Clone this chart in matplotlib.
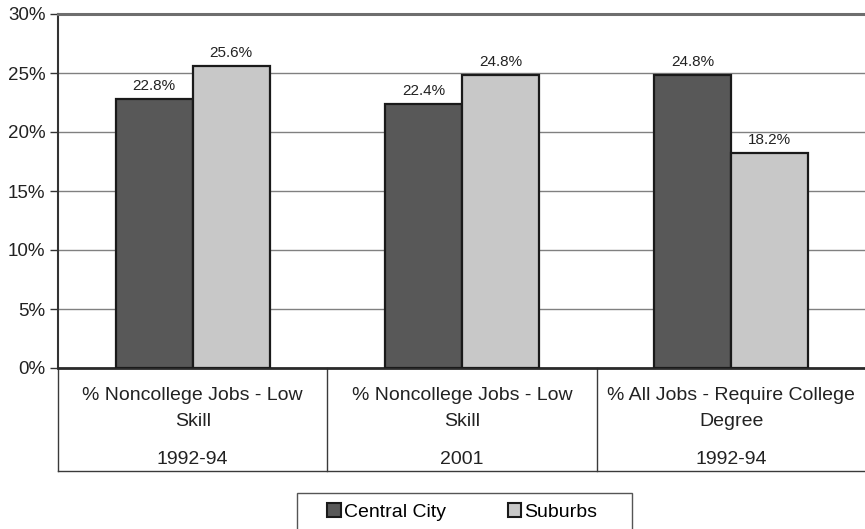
import numpy as np
import matplotlib as mpl
import matplotlib.pyplot as plt
from matplotlib.lines import Line2D
from matplotlib.patches import Rectangle

mpl.use("Agg")
plt.rcParams["font.family"] = ["Liberation Sans", "DejaVu Sans"]

categories = [
    "% Noncollege Jobs - Low\nSkill",
    "% Noncollege Jobs - Low\nSkill",
    "% All Jobs - Require College\nDegree",
]
periods = ["1992-94", "2001", "1992-94"]
series_names = ["Central City", "Suburbs"]
central_city = [22.8, 22.4, 24.8]
suburbs = [25.6, 24.8, 18.2]
y_ticks = [0, 5, 10, 15, 20, 25, 30]

dark = "#585858"
light = "#c8c8c8"
text_color = "#222222"

W, H = 865, 529
fig = plt.figure(figsize=(W / 100, H / 100), dpi=100)
ax = fig.add_axes([58 / W, 1 - 368 / H, 808 / W, 354 / H])

x = np.arange(len(categories))
width = 0.286
bars_dark = ax.bar(x - width / 2, central_city, width, color=dark,
                   edgecolor="#1a1a1a", linewidth=1.6, zorder=3, label=series_names[0])
bars_light = ax.bar(x + width / 2, suburbs, width, color=light,
                    edgecolor="#1a1a1a", linewidth=1.6, zorder=3, label=series_names[1])

for bars, vals in ((bars_dark, central_city), (bars_light, suburbs)):
    for b, v in zip(bars, vals):
        ax.text(b.get_x() + b.get_width() / 2, v + 0.5, f"{v:.1f}%",
                ha="center", va="bottom", fontsize=11, color=text_color)

ax.set_xlim(-0.5, len(categories) - 0.5)
ax.set_ylim(0, 30)
ax.set_yticks(y_ticks)
ax.set_yticklabels([f"{t}%" for t in y_ticks], fontsize=13.5, color=text_color)
ax.tick_params(axis="y", length=6, width=1, color="#333333", pad=3)
ax.set_xticks([])
ax.yaxis.grid(True, color="#808080", linewidth=1, zorder=0)

ax.spines["right"].set_visible(False)
ax.spines["top"].set_color("#6e6e6e")
ax.spines["top"].set_linewidth(2.2)
ax.spines["left"].set_color("#333333")
ax.spines["left"].set_linewidth(1.5)
ax.spines["bottom"].set_color("#2a2a2a")
ax.spines["bottom"].set_linewidth(2)

# category table under the axis
tr = ax.get_xaxis_transform()
table_bottom = -(471 - 368) / 354
line_kw = dict(color="#3a3a3a", linewidth=1, transform=tr, clip_on=False)
for edge in (-0.5, 0.5, 1.5):
    ax.add_line(Line2D([edge, edge], [0, table_bottom], **line_kw))
ax.add_line(Line2D([-0.5, 2.6], [table_bottom, table_bottom], **line_kw))

for i, (cat, per) in enumerate(zip(categories, periods)):
    ax.text(i, -(408.5 - 368) / 354, cat, transform=tr, ha="center", va="center",
            fontsize=14, color=text_color, linespacing=1.65)
    ax.text(i, -(460 - 368) / 354, per, transform=tr, ha="center", va="center",
            fontsize=14, color=text_color)

# legend box runs off the bottom edge
fig.patches.append(Rectangle((297 / W, -0.05), (632 - 297) / W, 0.05 + 1 - 493 / H,
                             transform=fig.transFigure, fill=False,
                             edgecolor="#555555", linewidth=1))
leg = fig.legend(handles=[bars_dark, bars_light], labels=series_names,
                 loc="center left", bbox_to_anchor=(327 / W, 1 - 512 / H),
                 ncol=2, fontsize=14, frameon=False, borderpad=0,
                 borderaxespad=0, handlelength=0.7, handleheight=0.7,
                 handletextpad=0.15, columnspacing=3.2)
for h in leg.legend_handles:
    h.set_linewidth(1.5)

fig.savefig("out.png", dpi=100)
